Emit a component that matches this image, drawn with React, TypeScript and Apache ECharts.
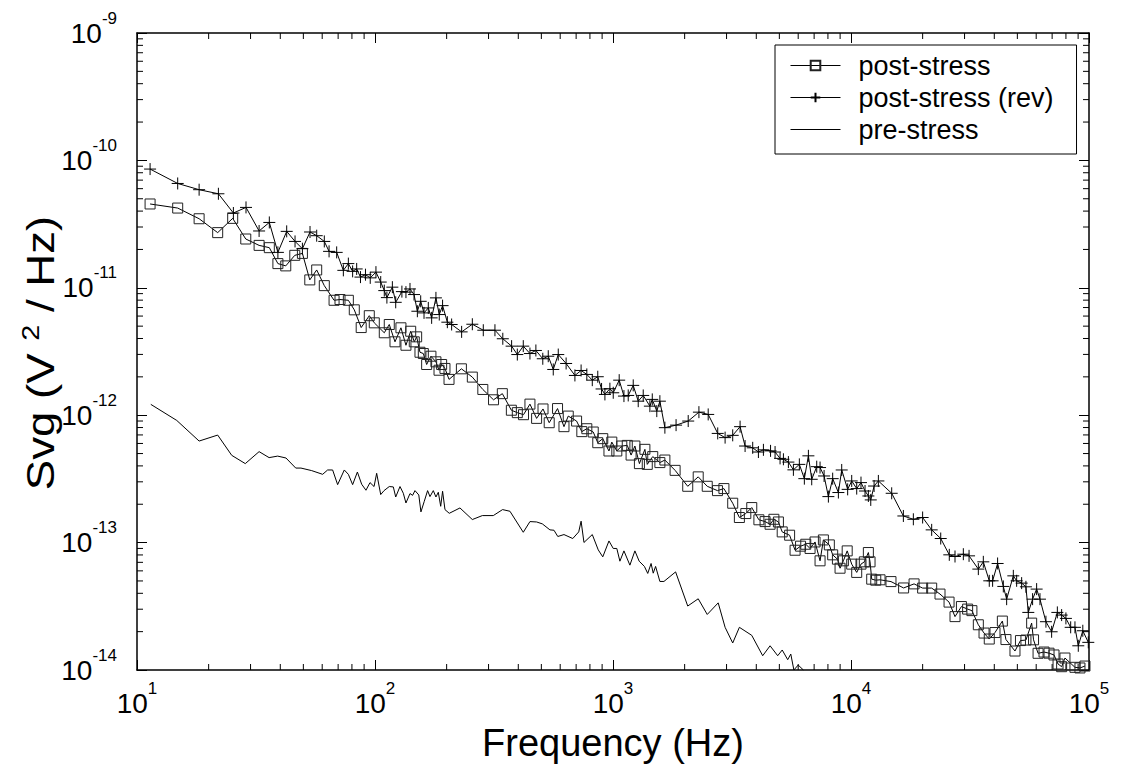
import React, { useEffect, useRef } from 'react';
import * as echarts from 'echarts';

// log10(frequency / Hz) and log10(Svg / (V^2/Hz))
const preLogF = [1.058,1.167,1.261,1.339,1.398,1.455,1.513,1.555,1.591,1.626,
  1.667,1.689,1.734,1.780,1.801,1.822,1.843,1.871,1.888,1.906,
  1.926,1.944,1.962,1.979,1.996,2.007,2.024,2.038,2.060,2.077,
  2.087,2.105,2.119,2.130,2.147,2.158,2.168,2.184,2.193,2.207,
  2.221,2.231,2.245,2.256,2.266,2.276,2.284,2.294,2.312,2.357,
  2.409,2.451,2.497,2.536,2.567,2.623,2.651,2.679,2.703,2.735,
  2.752,2.768,2.794,2.831,2.856,2.866,2.878,2.913,2.938,2.957,
  2.983,3.001,3.016,3.029,3.046,3.071,3.092,3.110,3.132,3.146,
  3.160,3.169,3.179,3.197,3.214,3.263,3.314,3.358,3.396,3.442,
  3.471,3.503,3.531,3.583,3.629,3.660,3.692,3.711,3.734,3.747,
  3.760,3.778,3.800];
const preLogS = [-11.915,-12.041,-12.203,-12.156,-12.315,-12.380,-12.286,-12.333,-12.321,-12.336,
  -12.415,-12.415,-12.435,-12.464,-12.430,-12.430,-12.545,-12.430,-12.464,-12.545,
  -12.446,-12.542,-12.589,-12.529,-12.560,-12.456,-12.623,-12.592,-12.560,-12.563,
  -12.642,-12.560,-12.613,-12.689,-12.615,-12.629,-12.592,-12.626,-12.759,-12.676,
  -12.592,-12.639,-12.592,-12.642,-12.605,-12.715,-12.597,-12.741,-12.770,-12.728,
  -12.819,-12.788,-12.788,-12.741,-12.754,-12.919,-12.835,-12.838,-12.853,-12.900,
  -12.903,-12.952,-12.937,-12.968,-12.916,-12.832,-12.999,-12.937,-13.057,-13.112,
  -12.987,-13.046,-13.046,-13.146,-13.065,-13.177,-13.065,-13.146,-13.187,-13.242,
  -13.164,-13.240,-13.187,-13.305,-13.305,-13.230,-13.498,-13.441,-13.564,-13.473,
  -13.665,-13.788,-13.665,-13.728,-13.888,-13.810,-13.888,-13.843,-13.919,-13.875,
  -14.0,-13.961,-14.0];

const postLogF = [1.055,1.171,1.261,1.339,1.402,1.457,1.513,1.556,1.592,1.625,
  1.663,1.695,1.726,1.755,1.787,1.828,1.853,1.888,1.913,1.942,
  1.976,1.997,2.039,2.060,2.084,2.109,2.130,2.150,2.165,2.175,
  2.189,2.203,2.217,2.235,2.256,2.269,2.280,2.294,2.311,2.363,
  2.409,2.453,2.498,2.535,2.573,2.598,2.624,2.651,2.679,2.706,
  2.732,2.767,2.794,2.812,2.847,2.869,2.890,2.917,2.936,2.957,
  2.983,2.995,3.016,3.037,3.060,3.076,3.092,3.111,3.134,3.144,
  3.167,3.197,3.218,3.261,3.314,3.358,3.396,3.439,3.466,3.503,
  3.531,3.558,3.583,3.613,3.639,3.660,3.676,3.695,3.711,3.742,
  3.765,3.788,3.810,3.828,3.849,3.870,3.884,3.909,3.923,3.943,
  3.954,3.968,3.984,4.003,4.024,4.042,4.056,4.073,4.080,4.087,
  4.104,4.122,4.168,4.221,4.265,4.301,4.339,4.374,4.412,4.437,
  4.464,4.490,4.508,4.535,4.559,4.581,4.605,4.636,4.651,4.689,
  4.712,4.735,4.759,4.767,4.786,4.811,4.832,4.853,4.870,4.885,
  4.899,4.941,4.962,4.983];
const postLogS = [-10.342,-10.374,-10.458,-10.567,-10.455,-10.617,-10.667,-10.685,-10.810,-10.828,
  -10.745,-10.730,-10.938,-10.860,-10.983,-11.098,-11.092,-11.098,-11.173,-11.312,
  -11.219,-11.275,-11.353,-11.288,-11.424,-11.314,-11.451,-11.341,-11.424,-11.385,
  -11.506,-11.516,-11.602,-11.537,-11.581,-11.647,-11.602,-11.633,-11.719,-11.636,
  -11.701,-11.798,-11.879,-11.831,-11.961,-11.980,-11.996,-11.913,-12.025,-11.951,
  -12.059,-11.948,-12.090,-12.007,-12.046,-12.129,-12.106,-12.132,-12.216,-12.184,
  -12.281,-12.211,-12.281,-12.242,-12.237,-12.313,-12.242,-12.380,-12.268,-12.386,
  -12.325,-12.372,-12.352,-12.433,-12.558,-12.484,-12.558,-12.592,-12.576,-12.691,
  -12.803,-12.772,-12.725,-12.821,-12.835,-12.856,-12.817,-12.838,-12.916,-12.942,
  -13.060,-13.028,-13.013,-13.046,-12.995,-13.143,-12.979,-13.018,-13.096,-13.130,
  -13.201,-13.143,-13.065,-13.169,-13.234,-13.169,-13.151,-13.078,-13.151,-13.287,
  -13.295,-13.292,-13.306,-13.356,-13.324,-13.357,-13.357,-13.404,-13.467,-13.581,
  -13.502,-13.522,-13.534,-13.645,-13.710,-13.757,-13.706,-13.616,-13.761,-13.851,
  -13.769,-13.765,-13.632,-13.763,-13.869,-13.859,-13.868,-13.882,-13.953,-13.974,
  -13.906,-13.979,-13.984,-13.969];

const revLogF = [1.055,1.171,1.261,1.342,1.405,1.458,1.513,1.556,1.592,1.629,
  1.664,1.695,1.727,1.755,1.787,1.807,1.839,1.867,1.888,1.906,
  1.923,1.939,1.960,1.980,2.004,2.024,2.039,2.050,2.073,2.087,
  2.113,2.130,2.147,2.164,2.178,2.192,2.206,2.224,2.238,2.256,
  2.270,2.284,2.304,2.322,2.364,2.409,2.455,2.504,2.537,2.574,
  2.598,2.623,2.651,2.676,2.705,2.728,2.749,2.770,2.803,2.840,
  2.866,2.890,2.913,2.936,2.952,2.966,2.987,3.001,3.026,3.046,
  3.064,3.085,3.106,3.127,3.155,3.165,3.184,3.197,3.218,3.265,
  3.316,3.361,3.400,3.440,3.471,3.503,3.534,3.555,3.587,3.611,
  3.632,3.662,3.681,3.702,3.716,3.737,3.758,3.783,3.804,3.821,
  3.835,3.856,3.870,3.887,3.905,3.923,3.947,3.961,3.986,4.003,
  4.024,4.042,4.059,4.073,4.083,4.097,4.115,4.171,4.220,4.262,
  4.301,4.339,4.377,4.413,4.437,4.472,4.496,4.535,4.556,4.581,
  4.595,4.616,4.640,4.654,4.682,4.696,4.717,4.735,4.745,4.763,
  4.780,4.794,4.819,4.843,4.867,4.885,4.903,4.923,4.941,4.955,
  4.974,4.997];
const revLogS = [-10.068,-10.181,-10.230,-10.262,-10.413,-10.369,-10.554,-10.487,-10.722,-10.557,
  -10.636,-10.693,-10.562,-10.591,-10.636,-10.714,-10.722,-10.863,-10.810,-10.871,
  -10.852,-10.916,-10.897,-10.922,-10.877,-10.955,-11.022,-11.077,-10.995,-11.114,
  -11.030,-11.034,-11.009,-11.053,-11.184,-11.106,-11.197,-11.158,-11.236,-11.079,
  -11.210,-11.140,-11.270,-11.288,-11.346,-11.286,-11.333,-11.333,-11.400,-11.458,
  -11.524,-11.458,-11.516,-11.492,-11.557,-11.537,-11.641,-11.524,-11.594,-11.688,
  -11.649,-11.680,-11.725,-11.698,-11.794,-11.837,-11.792,-11.824,-11.725,-11.850,
  -11.845,-11.766,-11.890,-11.845,-11.929,-11.876,-11.968,-11.890,-12.098,-12.078,
  -12.046,-11.976,-11.994,-12.143,-12.176,-12.158,-12.090,-12.242,-12.256,-12.289,
  -12.272,-12.280,-12.289,-12.339,-12.346,-12.368,-12.429,-12.386,-12.498,-12.319,
  -12.503,-12.404,-12.411,-12.477,-12.639,-12.498,-12.607,-12.430,-12.582,-12.516,
  -12.576,-12.529,-12.595,-12.634,-12.665,-12.556,-12.516,-12.613,-12.791,-12.817,
  -12.803,-12.900,-12.968,-13.096,-13.109,-13.091,-13.104,-13.208,-13.151,-13.300,
  -13.300,-13.164,-13.344,-13.444,-13.261,-13.300,-13.318,-13.347,-13.548,-13.444,
  -13.365,-13.444,-13.621,-13.700,-13.548,-13.569,-13.595,-13.665,-13.665,-13.810,
  -13.692,-13.783];

const seriesNames = ['post-stress', 'post-stress (rev)', 'pre-stress'];
const xAxisTitle = 'Frequency (Hz)';
const yAxisTitle = '{a|Svg (V }{s|2}{a| / Hz)}';
const xMin = 10, xMax = 1e5, yMin = 1e-14, yMax = 1e-9;

const FONT = '"Liberation Sans", Arial, Helvetica, sans-serif';

function toPairs(lf: number[], ls: number[]) {
  return lf.map((f, i) => [Math.pow(10, f), Math.pow(10, ls[i])]);
}

function minorTicks(lo: number, hi: number) {
  const out: number[] = [];
  for (let d = lo; d < hi; d++) {
    for (let k = 2; k <= 9; k++) out.push(k * Math.pow(10, d));
  }
  return out;
}

const tickRich = {
  b: { fontSize: 28, fontFamily: FONT, color: '#000' },
  s: { fontSize: 17, fontFamily: FONT, color: '#000', padding: [0, 0, 30, 0] },
};
const supFmt = (v: number) => `{b|10}{s|${Math.round(Math.log10(v))}}`;

export default function App() {
  const ref = useRef<HTMLDivElement>(null);
  useEffect(() => {
    if (!ref.current) return;
    const chart = echarts.init(ref.current, null, { renderer: 'svg' });
    const axisLine = { show: true, onZero: false, lineStyle: { color: '#000', width: 1.5 } };
    const axisTick = { show: true, inside: true, length: 10, lineStyle: { color: '#000', width: 1 } };
    const xMinor = minorTicks(1, 5);
    const yMinor = minorTicks(-14, -9);
    const tickLine = (x1: number, y1: number, x2: number, y2: number) => ({
      type: 'line', shape: { x1, y1, x2, y2 }, style: { stroke: '#000', lineWidth: 1 },
    });
    const option: any = {
      animation: false,
      backgroundColor: '#fff',
      grid: { left: 137, right: 32, top: 33, bottom: 95 },
      graphic: [
        {
          type: 'text', x: 41, y: 353, rotation: Math.PI / 2, scaleX: 1.2,
          style: {
            text: yAxisTitle, align: 'center', verticalAlign: 'middle',
            rich: {
              a: { fontSize: 38, fontFamily: FONT, fill: '#000' },
              s: { fontSize: 24, fontFamily: FONT, fill: '#000', padding: [0, 0, 20, 0] },
            },
          },
        },
      ],
      xAxis: [
        {
          type: 'log', logBase: 10, min: xMin, max: xMax, position: 'bottom',
          axisLine, axisTick, splitLine: { show: false },
          axisLabel: { formatter: supFmt, margin: 10, rich: tickRich },
          name: xAxisTitle, nameLocation: 'middle', nameGap: 54,
          nameTextStyle: { fontSize: 38, fontFamily: FONT, color: '#000' },
        },
        {
          type: 'log', logBase: 10, min: xMin, max: xMax, position: 'top',
          axisLine, axisTick, splitLine: { show: false }, axisLabel: { show: false },
        },
      ],
      yAxis: [
        {
          type: 'log', logBase: 10, min: yMin, max: yMax, position: 'left',
          axisLine, axisTick, splitLine: { show: false },
          axisLabel: { formatter: supFmt, margin: 20, rich: tickRich },
        },
        {
          type: 'log', logBase: 10, min: yMin, max: yMax, position: 'right',
          axisLine, axisTick, splitLine: { show: false }, axisLabel: { show: false },
        },
      ],
      legend: {
        orient: 'vertical', left: 775, top: 45,
        data: seriesNames,
        selectedMode: false,
        itemWidth: 50, itemHeight: 12, itemGap: 5,
        padding: [7, 23, 11, 15],
        borderColor: '#000', borderWidth: 1, borderRadius: 0,
        backgroundColor: '#fff',
        lineStyle: { width: 1, color: '#000' },
        textStyle: { fontFamily: FONT, fontSize: 27, color: '#000', padding: [0, 0, 0, 13] },
      },
      series: [
        {
          name: seriesNames[0], type: 'line', data: toPairs(postLogF, postLogS),
          symbol: 'rect', symbolSize: 10, showSymbol: true,
          lineStyle: { color: '#000', width: 1 },
          itemStyle: { color: 'transparent', borderColor: '#222', borderWidth: 1 },
          z: 3,
        },
        {
          name: seriesNames[1], type: 'line', data: toPairs(revLogF, revLogS),
          symbol: 'path://M5,0L5,10M0,5L10,5', symbolSize: 12, showSymbol: true,
          lineStyle: { color: '#000', width: 1 },
          itemStyle: { color: 'transparent', borderColor: '#000', borderWidth: 1 },
          z: 3,
        },
        {
          name: seriesNames[2], type: 'line', data: toPairs(preLogF, preLogS),
          symbol: 'none',
          lineStyle: { color: '#000', width: 1 },
          itemStyle: { color: 'transparent', borderWidth: 0 },
          z: 3,
        },
        {
          type: 'custom', silent: true, xAxisIndex: 0, yAxisIndex: 0, clip: false,
          data: xMinor.map((v) => [v, yMin]),
          renderItem: (_p: any, api: any) => {
            const v = api.value(0);
            const b = api.coord([v, yMin]);
            const t = api.coord([v, yMax]);
            return { type: 'group', children: [tickLine(b[0], b[1], b[0], b[1] - 6), tickLine(t[0], t[1], t[0], t[1] + 6)] };
          },
        },
        {
          type: 'custom', silent: true, xAxisIndex: 0, yAxisIndex: 0, clip: false,
          data: yMinor.map((v) => [xMin, v]),
          renderItem: (_p: any, api: any) => {
            const v = api.value(1);
            const l = api.coord([xMin, v]);
            const r = api.coord([xMax, v]);
            return { type: 'group', children: [tickLine(l[0], l[1], l[0] + 6, l[1]), tickLine(r[0], r[1], r[0] - 6, r[1])] };
          },
        },
      ],
    };
    chart.setOption(option);
    return () => chart.dispose();
  }, []);
  return <div ref={ref} style={{ position: 'fixed', left: 0, top: 0, width: 1121, height: 767, background: '#fff' }} />;
}
